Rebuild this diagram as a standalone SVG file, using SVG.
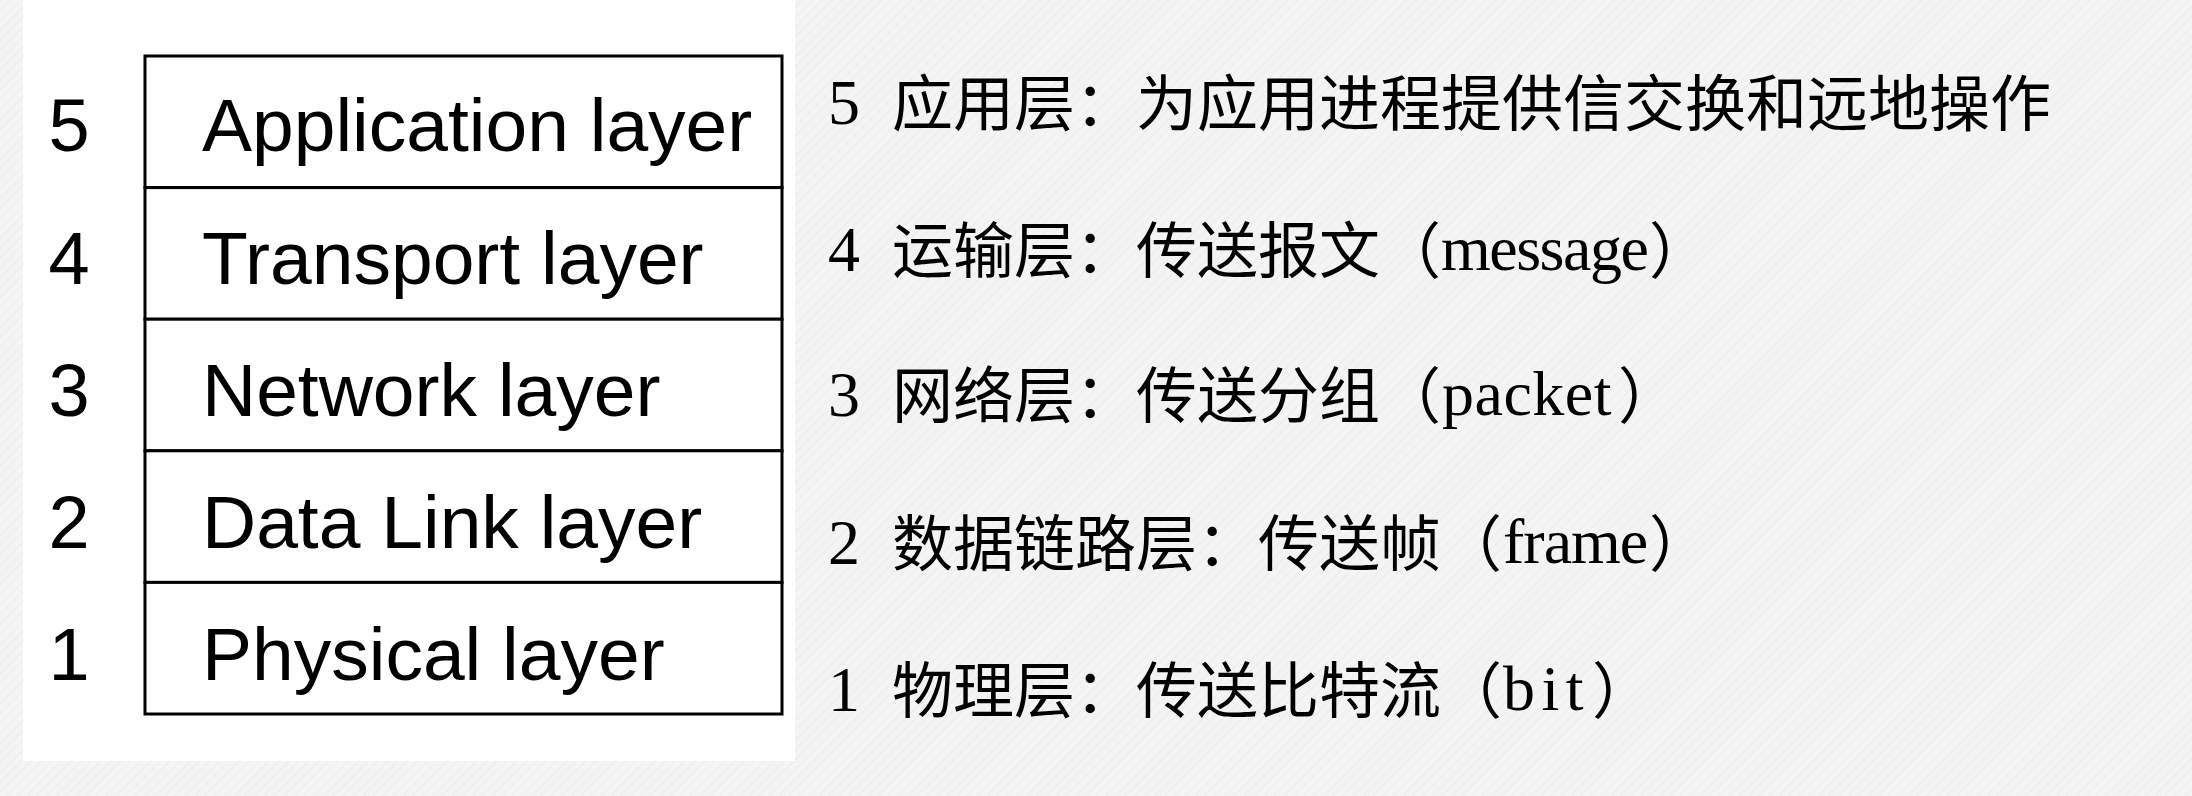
<svg xmlns="http://www.w3.org/2000/svg" width="2192" height="796" viewBox="0 0 2192 796">
  <defs>
    <pattern id="bgtex" width="7" height="7" patternUnits="userSpaceOnUse" patternTransform="rotate(45)">
      <rect width="7" height="7" fill="#f4f4f4"/>
      <line x1="0" y1="0" x2="0" y2="7" stroke="#ececec" stroke-width="2"/>
    </pattern>
  </defs>
  <style>
    .cell { fill: #ffffff; stroke: #000000; stroke-width: 3; }
    .lbl { font-family: "Liberation Sans", Arial, sans-serif; font-size: 75px; fill: #000000; }
    .num { font-family: "Liberation Sans", Arial, sans-serif; font-size: 74px; fill: #000000; text-anchor: middle; }
    .cn { font-family: "Noto Sans CJK SC", sans-serif; font-size: 61px; fill: #000000; }
    .lat { font-family: "Liberation Serif", "Times New Roman", serif; font-size: 64px; }
  </style>

  <rect x="0" y="0" width="2192" height="796" fill="url(#bgtex)"/>
  <rect x="23" y="0" width="772" height="761" fill="#ffffff"/>

  <g id="layer5">
    <rect class="cell" x="145" y="56" width="637" height="131.6"/>
    <text class="num" x="69" y="151">5</text>
    <text class="lbl" x="202" y="151">Application layer</text>
  </g>
  <g id="layer4">
    <rect class="cell" x="145" y="187.6" width="637" height="131.6"/>
    <text class="num" x="69" y="284">4</text>
    <text class="lbl" x="202" y="284">Transport layer</text>
  </g>
  <g id="layer3">
    <rect class="cell" x="145" y="319.2" width="637" height="131.6"/>
    <text class="num" x="69" y="416">3</text>
    <text class="lbl" x="202" y="416">Network layer</text>
  </g>
  <g id="layer2">
    <rect class="cell" x="145" y="450.8" width="637" height="131.6"/>
    <text class="num" x="69" y="548">2</text>
    <text class="lbl" x="202" y="548">Data Link layer</text>
  </g>
  <g id="layer1">
    <rect class="cell" x="145" y="582.4" width="637" height="131.6"/>
    <text class="num" x="69" y="680">1</text>
    <text class="lbl" x="202" y="680">Physical layer</text>
  </g>

  <g id="connectors"></g>

  <g id="desc5">
    <text class="cn"><tspan class="lat" x="828" y="124">5</tspan><tspan x="892" y="126">应用层：为应用进程提供信交换和远地操作</tspan></text>
  </g>
  <g id="desc4">
    <text class="cn"><tspan class="lat" x="828" y="271">4</tspan><tspan x="892" y="273">运输层：传送报文（</tspan><tspan class="lat" x="1441" y="270" letter-spacing="-1.5">message</tspan><tspan x="1649" y="273">）</tspan></text>
  </g>
  <g id="desc3">
    <text class="cn"><tspan class="lat" x="828" y="416">3</tspan><tspan x="892" y="418">网络层：传送分组（</tspan><tspan class="lat" x="1442" y="415" letter-spacing="0.5">packet</tspan><tspan x="1618" y="418">）</tspan></text>
  </g>
  <g id="desc2">
    <text class="cn"><tspan class="lat" x="828" y="564">2</tspan><tspan x="892" y="566">数据链路层：传送帧（</tspan><tspan class="lat" x="1503" y="563" letter-spacing="-1">frame</tspan><tspan x="1649" y="566">）</tspan></text>
  </g>
  <g id="desc1">
    <text class="cn"><tspan class="lat" x="828" y="711">1</tspan><tspan x="892" y="713">物理层：传送比特流（</tspan><tspan class="lat" x="1503" y="710" letter-spacing="6.5">bit</tspan><tspan x="1592" y="713">）</tspan></text>
  </g>
</svg>
